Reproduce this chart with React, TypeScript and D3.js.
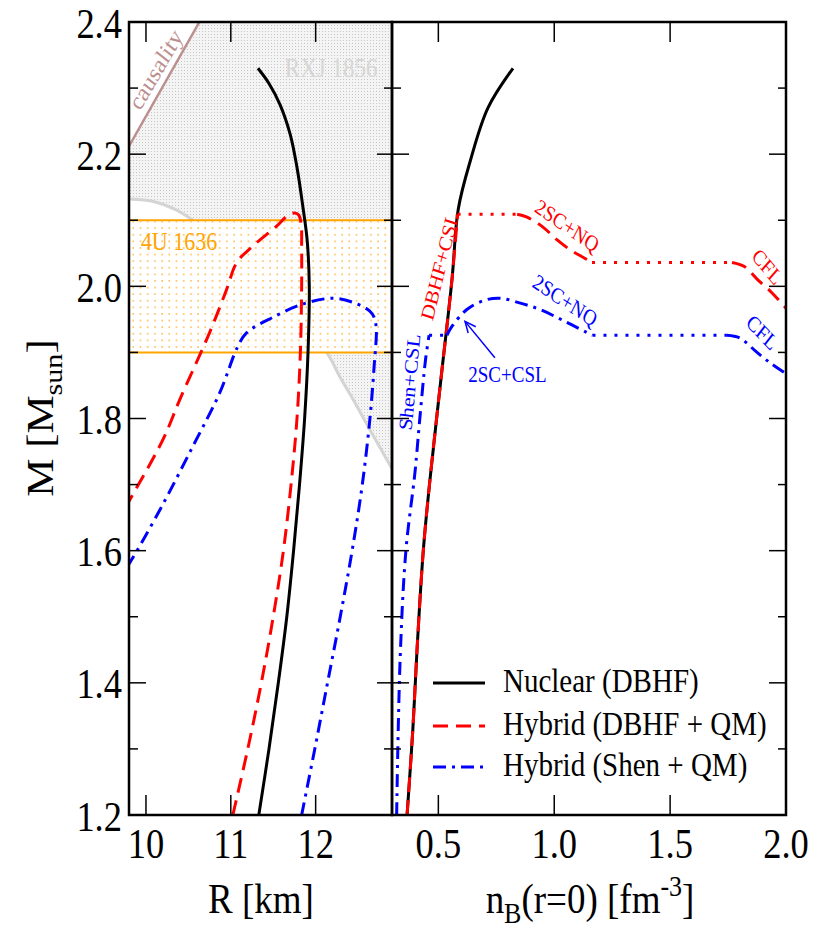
import React from "react";
import * as d3 from "d3";

type P = [number, number];

// ---------- axes ----------
const rDomain: P = [9.8, 12.9];
const nDomain: P = [0.3, 2.0];
const mDomain: P = [1.2, 2.4];
const rTicks = [10, 11, 12];
const nTicks = [0.5, 1.0, 1.5, 2.0];
const nTickLabels = ["0.5", "1.0", "1.5", "2.0"];
const mMajorTicks = [1.2, 1.4, 1.6, 1.8, 2.0, 2.2, 2.4];
const mMajorLabels = ["1.2", "1.4", "1.6", "1.8", "2.0", "2.2", "2.4"];
const mMinorTicks = [1.3, 1.5, 1.7, 1.9, 2.1, 2.3];

// ---------- left panel: M vs R ----------
const nuclearMR: P[] = [
  [11.33, 1.2], [11.45, 1.3], [11.56, 1.4], [11.66, 1.5], [11.74, 1.6], [11.81, 1.7],
  [11.87, 1.8], [11.91, 1.9], [11.925, 2.0], [11.9, 2.07], [11.85, 2.12], [11.78, 2.18],
  [11.7, 2.23], [11.58, 2.275], [11.45, 2.307], [11.32, 2.33],
];
const hybridDbhfMR: P[] = [
  [11.024, 1.2], [11.2, 1.3], [11.36, 1.4], [11.5, 1.5], [11.62, 1.6], [11.71, 1.7],
  [11.78, 1.8], [11.82, 1.9], [11.835, 2.0], [11.835, 2.06], [11.83, 2.093], [11.8, 2.108],
  [11.75, 2.111], [11.66, 2.106], [11.54, 2.091], [11.26, 2.061], [11.07, 2.036],
  [10.95, 1.995], [10.75, 1.93], [10.4, 1.829], [10.2, 1.768], [9.81, 1.677], [9.78, 1.67],
];
const hybridShenMR: P[] = [
  [11.835, 1.2], [11.99, 1.3], [12.14, 1.4], [12.29, 1.5], [12.43, 1.6], [12.55, 1.7],
  [12.64, 1.8], [12.69, 1.88], [12.715, 1.935], [12.69, 1.953], [12.635, 1.963],
  [12.435, 1.976], [12.2, 1.982], [11.846, 1.973], [11.494, 1.953], [11.188, 1.93],
  [11.082, 1.909], [10.87, 1.839], [10.553, 1.758], [10.165, 1.662], [9.81, 1.582], [9.78, 1.577],
];
const rxjBoundary: P[] = [
  [9.8, 2.132], [10.1, 2.128], [10.35, 2.116], [10.63, 2.093], [11.0, 2.055],
  [11.5, 1.993], [11.8, 1.948], [12.13, 1.9], [12.29, 1.862], [12.44, 1.829],
  [12.67, 1.776], [12.9, 1.724],
];
const causality: P[] = [[9.8, 2.212], [10.63, 2.4]];
const band4U: P = [1.9, 2.1];

// ---------- right panel: M vs n_B ----------
const nuclearNM: P[] = [
  [0.365, 1.2], [0.39, 1.33], [0.408, 1.45], [0.435, 1.6], [0.464, 1.708],
  [0.511, 1.859], [0.559, 2.011], [0.586, 2.117], [0.638, 2.19], [0.714, 2.27], [0.822, 2.33],
];
const dbhfDash1: P[] = [
  [0.365, 1.2], [0.39, 1.33], [0.408, 1.45], [0.435, 1.6], [0.464, 1.708],
  [0.511, 1.859], [0.559, 2.011], [0.583, 2.109],
];
const dbhfDot1: P[] = [[0.583, 2.109], [0.84, 2.109]];
const dbhfDash2: P[] = [
  [0.84, 2.109], [0.88, 2.105], [0.95, 2.09], [1.01, 2.071], [1.07, 2.055], [1.124, 2.044], [1.163, 2.036],
];
const dbhfDot2: P[] = [[1.163, 2.036], [1.767, 2.036]];
const dbhfDash3: P[] = [[1.767, 2.036], [1.82, 2.03], [1.875, 2.011], [1.94, 1.99], [2.0, 1.967]];

const shenDD1: P[] = [
  [0.32, 1.2], [0.335, 1.435], [0.36, 1.6], [0.399, 1.718], [0.42, 1.8], [0.445, 1.89], [0.46, 1.926],
];
const shenDot1: P[] = [[0.46, 1.926], [0.537, 1.926]];
const shenDD2: P[] = [
  [0.537, 1.926], [0.56, 1.94], [0.623, 1.965], [0.7, 1.979], [0.766, 1.982], [0.85, 1.975],
  [0.938, 1.965], [1.04, 1.948], [1.141, 1.93], [1.165, 1.926],
];
const shenDot2: P[] = [[1.165, 1.926], [1.745, 1.926]];
const shenDD3: P[] = [[1.745, 1.926], [1.8, 1.922], [1.875, 1.9], [1.94, 1.882], [2.0, 1.868]];

const arrow2SC: P[] = [[0.744, 1.892], [0.615, 1.947]];

const legendLabels = ["Nuclear (DBHF)", "Hybrid (DBHF + QM)", "Hybrid (Shen + QM)"];

// ---------- styles ----------
const FONT = '"Liberation Serif","Times New Roman",Times,serif';
const SY = 1.16;
const RED = "#ff0000";
const BLUE = "#0000ff";
const ORANGE = "#ffa500";
const ROSY = "#bc8f8f";
const DASH = "15 8";
const DASHDOT = "13 6 3 6";
const DOT = "3 8";
const LW = 3;

const PLOT = { top: 22, bottom: 815, leftL: 129, mid: 392, rightR: 786 };

function Txt(props: {
  x: number; y: number; rot?: number; size: number; fill?: string; anchor?: string; sy?: number; children: any;
}) {
  const { x, y, rot = 0, size, fill = "#000", anchor = "start", sy = SY, children } = props;
  return (
    <text
      transform={`translate(${x},${y}) scale(1,${sy})${rot ? ` rotate(${rot})` : ""}`}
      fontSize={size}
      fill={fill}
      textAnchor={anchor as any}
      fontFamily={FONT}
    >
      {children}
    </text>
  );
}

export default function App() {
  const yM = d3.scaleLinear().domain(mDomain).range([PLOT.bottom, PLOT.top]);
  const xR = d3.scaleLinear().domain(rDomain).range([PLOT.leftL, PLOT.mid]);
  const xN = d3.scaleLinear().domain(nDomain).range([PLOT.mid, PLOT.rightR]);

  const smooth = d3.curveCatmullRom.alpha(0.5);
  const lineR = d3.line<P>().x((d) => xR(d[0])).y((d) => yM(d[1])).curve(smooth);
  const lineRlin = d3.line<P>().x((d) => xR(d[0])).y((d) => yM(d[1]));
  const lineN = d3.line<P>().x((d) => xN(d[0])).y((d) => yM(d[1])).curve(smooth);
  const lineNlin = d3.line<P>().x((d) => xN(d[0])).y((d) => yM(d[1]));

  const rxjPath =
    (lineR(rxjBoundary) as string) +
    `L${xR(rDomain[1])},${yM(mDomain[1])}` +
    `L${xR(causality[1][0])},${yM(causality[1][1])}` +
    `L${xR(causality[0][0])},${yM(causality[0][1])}Z`;

  const majorLen = 17, minorLen = 8, xTickLen = 20;

  // arrow
  const ax0 = xN(arrow2SC[0][0]), ay0 = yM(arrow2SC[0][1]);
  const ax1 = xN(arrow2SC[1][0]), ay1 = yM(arrow2SC[1][1]);
  const ang = Math.atan2(ay1 - ay0, ax1 - ax0);
  const ah = 12, aw = 0.42;
  const wing1: P = [ax1 - ah * Math.cos(ang - aw), ay1 - ah * Math.sin(ang - aw)];
  const wing2: P = [ax1 - ah * Math.cos(ang + aw), ay1 - ah * Math.sin(ang + aw)];

  const leftW = PLOT.mid - PLOT.leftL;
  const rightW = PLOT.rightR - PLOT.mid;
  const H = PLOT.bottom - PLOT.top;

  const legendStyles = [
    { stroke: "#000", dash: undefined as string | undefined },
    { stroke: RED, dash: DASH },
    { stroke: BLUE, dash: DASHDOT },
  ];

  return (
    <svg
      width={817}
      height={933}
      style={{ position: "absolute", left: 0, top: 0, background: "#fff" }}
      fontFamily={FONT}
    >
      <defs>
        <pattern id="rxjPat" width={3} height={3} patternUnits="userSpaceOnUse">
          <rect width={3} height={3} fill="#f4f4f4" />
          <rect x={1} y={1} width={1} height={1} fill="#c6c6c6" />
        </pattern>
        <pattern id="bandPat" width={7.2} height={6.6} patternUnits="userSpaceOnUse">
          <rect width={7.2} height={6.6} fill="#fff" />
          <rect x={3} y={3} width={1.5} height={1.5} fill="#ffb43a" />
        </pattern>
        <clipPath id="clipL">
          <rect x={PLOT.leftL} y={PLOT.top} width={leftW} height={H} />
        </clipPath>
        <clipPath id="clipR">
          <rect x={PLOT.mid} y={PLOT.top} width={rightW} height={H} />
        </clipPath>
      </defs>

      {/* ===== LEFT PANEL ===== */}
      <g clipPath="url(#clipL)">
        <path d={rxjPath} fill="url(#rxjPat)" />
        <path d={lineR(rxjBoundary) as string} fill="none" stroke="#d4d4d4" strokeWidth={3} />
        <rect
          x={PLOT.leftL}
          y={yM(band4U[1])}
          width={leftW}
          height={yM(band4U[0]) - yM(band4U[1])}
          fill="url(#bandPat)"
        />
        <line x1={PLOT.leftL} x2={PLOT.mid} y1={yM(band4U[1])} y2={yM(band4U[1])} stroke={ORANGE} strokeWidth={2} />
        <line x1={PLOT.leftL} x2={PLOT.mid} y1={yM(band4U[0])} y2={yM(band4U[0])} stroke={ORANGE} strokeWidth={2} />
        <path d={lineRlin(causality) as string} stroke={ROSY} strokeWidth={2.5} fill="none" />
        <Txt x={xR(10.188)} y={yM(2.321)} rot={-56} size={22} fill={ROSY} anchor="middle">causality</Txt>
        <Txt x={xR(11.637)} y={yM(2.317)} size={23} fill="#d6d6d6">RXJ 1856</Txt>
        <Txt x={xR(9.94)} y={yM(2.055)} size={22} fill={ORANGE}>4U 1636</Txt>

        <path d={lineR(hybridShenMR) as string} fill="none" stroke={BLUE} strokeWidth={LW} strokeDasharray={DASHDOT} />
        <path d={lineR(hybridDbhfMR) as string} fill="none" stroke={RED} strokeWidth={LW} strokeDasharray={DASH} />
        <path d={lineR(nuclearMR) as string} fill="none" stroke="#000" strokeWidth={LW} />
      </g>

      {/* ===== RIGHT PANEL ===== */}
      <g clipPath="url(#clipR)">
        <path d={lineN(nuclearNM) as string} fill="none" stroke="#000" strokeWidth={LW} />
        <path d={lineN(dbhfDash1) as string} fill="none" stroke={RED} strokeWidth={LW} strokeDasharray={DASH} />
        <path d={lineNlin(dbhfDot1) as string} fill="none" stroke={RED} strokeWidth={LW} strokeDasharray={DOT} />
        <path d={lineN(dbhfDash2) as string} fill="none" stroke={RED} strokeWidth={LW} strokeDasharray={DASH} />
        <path d={lineNlin(dbhfDot2) as string} fill="none" stroke={RED} strokeWidth={LW} strokeDasharray={DOT} />
        <path d={lineN(dbhfDash3) as string} fill="none" stroke={RED} strokeWidth={LW} strokeDasharray={DASH} />

        <path d={lineN(shenDD1) as string} fill="none" stroke={BLUE} strokeWidth={LW} strokeDasharray={DASHDOT} />
        <path d={lineNlin(shenDot1) as string} fill="none" stroke={BLUE} strokeWidth={LW} strokeDasharray={DOT} />
        <path d={lineN(shenDD2) as string} fill="none" stroke={BLUE} strokeWidth={LW} strokeDasharray={DASHDOT} />
        <path d={lineNlin(shenDot2) as string} fill="none" stroke={BLUE} strokeWidth={LW} strokeDasharray={DOT} />
        <path d={lineN(shenDD3) as string} fill="none" stroke={BLUE} strokeWidth={LW} strokeDasharray={DASHDOT} />

        {/* arrow */}
        <line x1={ax0} y1={ay0} x2={ax1} y2={ay1} stroke={BLUE} strokeWidth={1.5} />
        <polyline
          points={`${wing1[0]},${wing1[1]} ${ax1},${ay1} ${wing2[0]},${wing2[1]}`}
          fill="none"
          stroke={BLUE}
          strokeWidth={1.5}
        />

        <Txt x={xN(0.533)} y={yM(2.028)} rot={-74} size={19} fill={RED} anchor="middle">DBHF+CSL</Txt>
        <Txt x={xN(0.4035)} y={yM(1.854)} rot={-84} size={19} fill={BLUE} anchor="middle">Shen+CSL</Txt>
        <Txt x={xN(1.042)} y={yM(2.082)} rot={31} size={19} fill={RED} anchor="middle">2SC+NQ</Txt>
        <Txt x={xN(1.033)} y={yM(1.969)} rot={30} size={19} fill={BLUE} anchor="middle">2SC+NQ</Txt>
        <Txt x={xN(1.9)} y={yM(2.022)} rot={46} size={19} fill={RED} anchor="middle">CFL</Txt>
        <Txt x={xN(1.879)} y={yM(1.922)} rot={42} size={19} fill={BLUE} anchor="middle">CFL</Txt>
        <Txt x={xN(0.798)} y={yM(1.855)} size={19} fill={BLUE} anchor="middle">2SC+CSL</Txt>

        {/* legend */}
        {legendLabels.map((lab, i) => {
          const ly = [683, 726, 767][i];
          const st = legendStyles[i];
          return (
            <g key={lab}>
              <line x1={433} x2={485} y1={ly} y2={ly} stroke={st.stroke} strokeWidth={LW} strokeDasharray={st.dash} />
              <Txt x={503} y={ly + 8.5} size={29} sy={1.15}>{lab}</Txt>
            </g>
          );
        })}
      </g>

      {/* ===== ticks ===== */}
      <g stroke="#000" strokeWidth={1.5}>
        {mMajorTicks.map((m) => {
          const y = yM(m);
          return (
            <g key={"mj" + m}>
              <line x1={PLOT.leftL} x2={PLOT.leftL + majorLen} y1={y} y2={y} />
              <line x1={PLOT.mid - majorLen + 2} x2={PLOT.mid + majorLen} y1={y} y2={y} />
              <line x1={PLOT.rightR - majorLen} x2={PLOT.rightR} y1={y} y2={y} />
            </g>
          );
        })}
        {mMinorTicks.map((m) => {
          const y = yM(m);
          return (
            <g key={"mn" + m}>
              <line x1={PLOT.leftL} x2={PLOT.leftL + minorLen + 1} y1={y} y2={y} />
              <line x1={PLOT.mid - minorLen} x2={PLOT.mid + minorLen + 1} y1={y} y2={y} />
              <line x1={PLOT.rightR - minorLen} x2={PLOT.rightR} y1={y} y2={y} />
            </g>
          );
        })}
        {rTicks.map((r) => (
          <g key={"r" + r}>
            <line x1={xR(r)} x2={xR(r)} y1={PLOT.bottom} y2={PLOT.bottom - xTickLen} />
            <line x1={xR(r)} x2={xR(r)} y1={PLOT.top} y2={PLOT.top + xTickLen} />
          </g>
        ))}
        {nTicks.map((n) => (
          <g key={"n" + n}>
            <line x1={xN(n)} x2={xN(n)} y1={PLOT.bottom} y2={PLOT.bottom - xTickLen} />
            <line x1={xN(n)} x2={xN(n)} y1={PLOT.top} y2={PLOT.top + xTickLen} />
          </g>
        ))}
      </g>

      {/* frames */}
      <rect x={PLOT.leftL} y={PLOT.top} width={leftW} height={H} fill="none" stroke="#000" strokeWidth={2.5} />
      <rect x={PLOT.mid} y={PLOT.top} width={rightW} height={H} fill="none" stroke="#000" strokeWidth={2.5} />

      {/* tick labels */}
      {mMajorTicks.map((m, i) => (
        <Txt key={"ml" + m} x={122} y={yM(m) + 15.5} size={36.5} anchor="end">{mMajorLabels[i]}</Txt>
      ))}
      {rTicks.map((r) => (
        <Txt key={"rl" + r} x={xR(r)} y={858} size={36.5} anchor="middle">{String(r)}</Txt>
      ))}
      {nTicks.map((n, i) => (
        <Txt key={"nl" + n} x={xN(n)} y={858} size={36.5} anchor="middle">{nTickLabels[i]}</Txt>
      ))}

      {/* axis titles */}
      <Txt x={261} y={913} size={37} anchor="middle">R [km]</Txt>
      <Txt x={590} y={913} size={37} anchor="middle">
        <tspan>n</tspan>
        <tspan fontSize={26} dy={9}>B</tspan>
        <tspan dy={-9}>(r=0) [fm</tspan>
        <tspan fontSize={26} dy={-15}>-3</tspan>
        <tspan dy={15}>]</tspan>
      </Txt>
      <Txt x={53} y={418} rot={-90} size={37} anchor="middle">
        <tspan>M [M</tspan>
        <tspan fontSize={26} dy={9}>sun</tspan>
        <tspan dy={-9}>]</tspan>
      </Txt>
    </svg>
  );
}
